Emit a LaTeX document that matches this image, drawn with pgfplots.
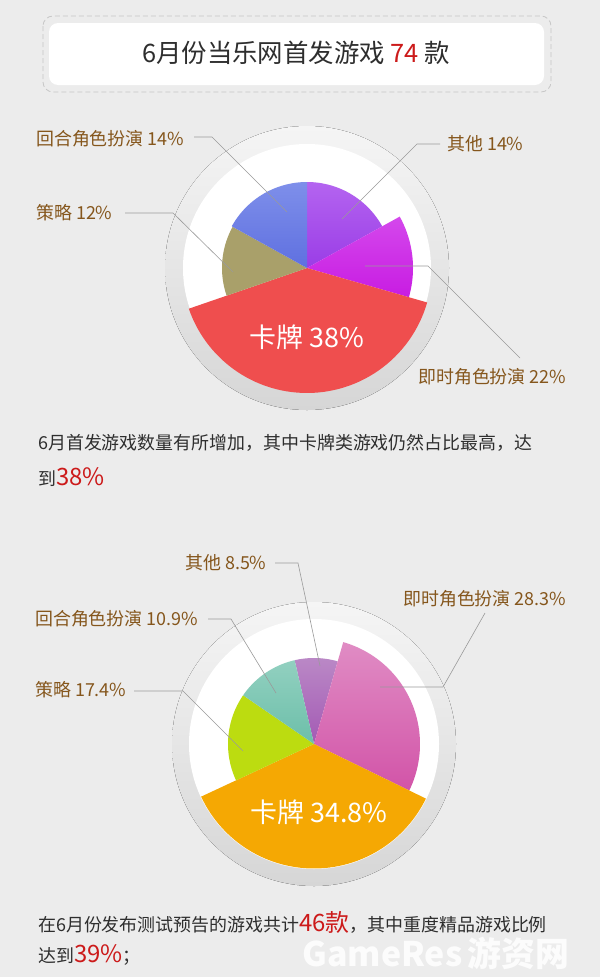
\documentclass[border=0pt]{standalone}
\usepackage{fontspec}
\setmainfont{Noto Sans CJK SC}
\usepackage{pgfplots}
\pgfplotsset{compat=1.18}
\definecolor{bg}{HTML}{ECECEC}
\definecolor{lab}{HTML}{85561C}
\definecolor{txt}{HTML}{2E2E2E}
\definecolor{hl}{HTML}{CC1A1A}
\definecolor{leader}{HTML}{9A9A9A}
\definecolor{ringtop}{HTML}{F5F5F5}
\definecolor{ringbot}{HTML}{D6D6D6}
% chart 1 colours
\definecolor{aOther}{HTML}{9A3DE6}
\definecolor{aOtherT}{HTML}{B464F0}
\definecolor{aRT}{HTML}{C81CE2}
\definecolor{aRTT}{HTML}{D448EC}
\definecolor{aCard}{HTML}{EF4E4E}
\definecolor{aStrat}{HTML}{A9A06A}
\definecolor{aTurn}{HTML}{5F70E0}
\definecolor{aTurnT}{HTML}{7E8FEA}
% chart 2 colours
\definecolor{bOther}{HTML}{A35AB4}
\definecolor{bOtherT}{HTML}{BA88C6}
\definecolor{bRT}{HTML}{D254A8}
\definecolor{bRTT}{HTML}{E08CC4}
\definecolor{bCard}{HTML}{F5A803}
\definecolor{bStrat}{HTML}{BCDC10}
\definecolor{bTurn}{HTML}{6CBFA9}
\definecolor{bTurnT}{HTML}{92D0C0}
\pgfplotsset{
  rose/.style={width=300bp, height=300bp, scale only axis,
    xmin=-150, xmax=150, ymin=-150, ymax=150,
    hide axis, clip=false, anchor=center},
  slice/.style={draw=none, data cs=polar, samples=60},
}
\newcommand{\lab}[1]{{\fontsize{18}{18}\selectfont #1}}
\begin{document}
\begin{tikzpicture}[x=1bp,y=-1bp]
\useasboundingbox (0,0) rectangle (600,977);
\fill[bg] (0,0) rectangle (600,977);
\coordinate (cA) at (307,268);
\coordinate (cB) at (314,744);

% ---------- title box ----------
\draw[draw=black!22, dash pattern=on 5bp off 3bp, line width=0.8bp, rounded corners=10bp] (43,16) rectangle (551,92);
\fill[white, rounded corners=9bp] (49,23) rectangle (544,85);
\node[txt, inner sep=0, font=\fontsize{25.5}{26}\selectfont] at (296,53) {6月份当乐网首发游戏 \textcolor{hl}{74} 款};

% ---------- chart 1 ----------
\begin{axis}[rose, at={(cA)}]
\fill[top color=ringtop, bottom color=ringbot] (axis cs:0,0) circle[radius=142bp];
\fill[white] (axis cs:0,0) circle[radius=124bp];
% 其他 14%
\addplot[slice, top color=aOtherT, bottom color=aOther, domain=29:90] {86} -- (axis cs:0,0) -- cycle;
% 即时角色扮演 22%
\addplot[slice, top color=aRTT, bottom color=aRT, domain=-16:29] {106} -- (axis cs:0,0) -- cycle;
% 卡牌 38%
\addplot[slice, fill=aCard, domain=-161:-16] {125} -- (axis cs:0,0) -- cycle;
% 策略 12%
\addplot[slice, fill=aStrat, domain=151:199] {85} -- (axis cs:0,0) -- cycle;
% 回合角色扮演 14%
\addplot[slice, top color=aTurnT, bottom color=aTurn, domain=90:151] {86} -- (axis cs:0,0) -- cycle;
\end{axis}

\begin{scope}[draw=leader, line width=0.6bp]
\draw (194,137) -- (212,137) -- (287,212);
\draw (125,213) -- (173,213) -- (233,272);
\draw (440,144) -- (417,144) -- (342,219);
\draw (365,266) -- (428,266) -- (520,358);
\end{scope}
\node[lab, anchor=west, inner sep=0] at (36,139) {\lab{回合角色扮演 14\%}};
\node[lab, anchor=west, inner sep=0] at (36,213) {\lab{策略 12\%}};
\node[lab, anchor=west, inner sep=0] at (447,144) {\lab{其他 14\%}};
\node[lab, anchor=west, inner sep=0] at (418,377) {\lab{即时角色扮演 22\%}};
\node[white, inner sep=0, font=\fontsize{27}{27}\selectfont] at (307,337) {卡牌 38\%};

% paragraph 1
\node[txt, anchor=west, inner sep=0, font=\fontsize{18}{18}\selectfont] at (38,443) {6月首发游戏数量有所增加，其中卡牌类游戏仍然占比最高，达};
\node[txt, anchor=west, inner sep=0, font=\fontsize{18}{18}\selectfont] at (38,477) {到{\fontsize{24}{24}\selectfont\color{hl}38\%}};

% ---------- chart 2 ----------
\begin{axis}[rose, at={(cB)}]
\fill[top color=ringtop, bottom color=ringbot] (axis cs:0,0) circle[radius=142bp];
\fill[white] (axis cs:0,0) circle[radius=125bp];
% 其他 8.5%
\addplot[slice, top color=bOtherT, bottom color=bOther, domain=74:103] {86} -- (axis cs:0,0) -- cycle;
% 即时角色扮演 28.3%
\addplot[slice, top color=bRTT, bottom color=bRT, domain=-26:74] {106} -- (axis cs:0,0) -- cycle;
% 卡牌 34.8%
\addplot[slice, fill=bCard, domain=-155:-26] {124.5} -- (axis cs:0,0) -- cycle;
% 策略 17.4%
\addplot[slice, fill=bStrat, domain=145.5:205] {86} -- (axis cs:0,0) -- cycle;
% 回合角色扮演 10.9%
\addplot[slice, top color=bTurnT, bottom color=bTurn, domain=103:145.5] {86} -- (axis cs:0,0) -- cycle;
\end{axis}

\begin{scope}[draw=leader, line width=0.6bp]
\draw (275,563) -- (298,563) -- (320,666);
\draw (380,687) -- (443,687) -- (485,613);
\draw (208,619) -- (231,619) -- (276,693);
\draw (134,691) -- (183,691) -- (243,751);
\end{scope}
\node[lab, anchor=west, inner sep=0] at (185,563) {\lab{其他 8.5\%}};
\node[lab, anchor=west, inner sep=0] at (403,599) {\lab{即时角色扮演 28.3\%}};
\node[lab, anchor=west, inner sep=0] at (35,619) {\lab{回合角色扮演 10.9\%}};
\node[lab, anchor=west, inner sep=0] at (35,690) {\lab{策略 17.4\%}};
\node[white, inner sep=0, font=\fontsize{27}{27}\selectfont] at (319,812) {卡牌 34.8\%};

% paragraph 2
\node[txt, anchor=west, inner sep=0, font=\fontsize{18}{18}\selectfont] at (38,922) {在6月份发布测试预告的游戏共计{\fontsize{24}{24}\selectfont\color{hl}46款}，其中重度精品游戏比例};
\node[txt, anchor=west, inner sep=0, font=\fontsize{18}{18}\selectfont] at (38,955) {达到{\fontsize{24}{24}\selectfont\color{hl}39\%}；};

% watermark
\node[white, opacity=0.85, inner sep=0, font=\fontsize{34}{34}\selectfont\bfseries] at (436,953) {GameRes\,游资网};
\end{tikzpicture}
\end{document}
